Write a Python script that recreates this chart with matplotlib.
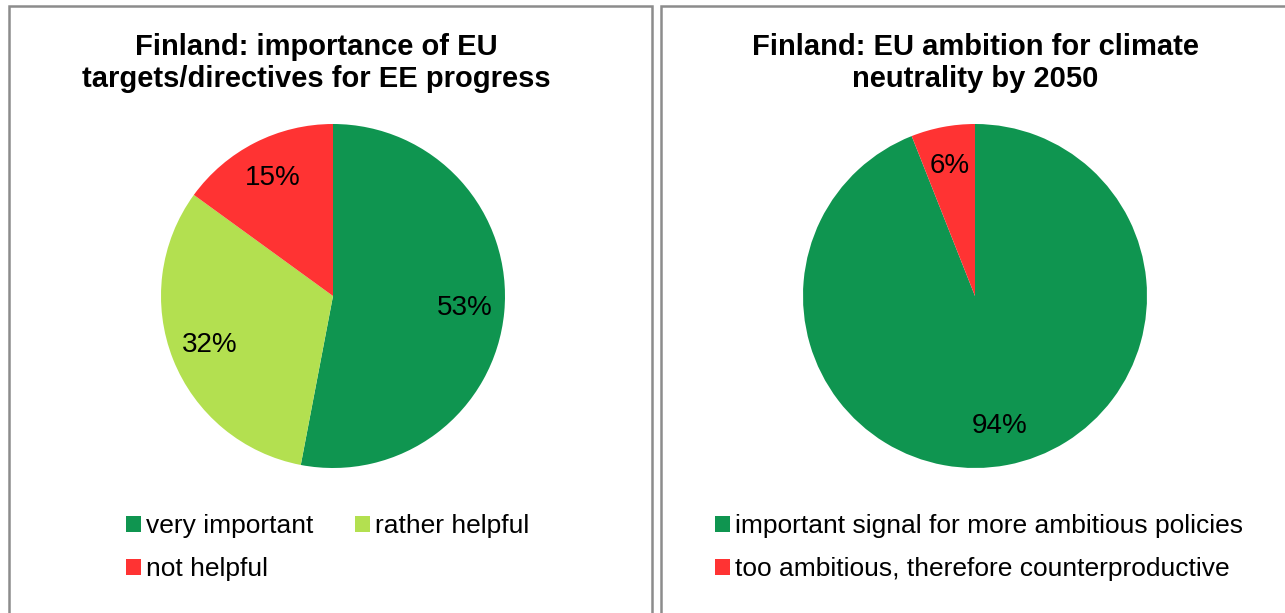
import matplotlib.pyplot as plt
from matplotlib.patches import Rectangle

# -----------------------------
# Data
# -----------------------------
left_title = "Finland: importance of EU\ntargets/directives for EE progress"
left_labels = ["very important", "rather helpful", "not helpful"]
left_values = [53, 32, 15]
left_colors = ["#0f9550", "#b3e050", "#ff3333"]

right_title = "Finland: EU ambition for climate\nneutrality by 2050"
right_labels = ["important signal for more ambitious policies",
                "too ambitious, therefore counterproductive"]
right_values = [94, 6]
right_colors = ["#0f9550", "#ff3333"]

plt.rcParams['font.family'] = ['Liberation Sans', 'DejaVu Sans']

W, H = 1285, 613
fig = plt.figure(figsize=(W / 100, H / 100), dpi=100)


def fx(px):
    return px / W


def fy(py):
    return 1 - py / H


# panel borders
for x0, x1 in [(9, 652), (661, 1300)]:
    fig.patches.append(Rectangle((fx(x0), fy(640)), fx(x1 - x0), (640 - 6) / H,
                                 transform=fig.transFigure, fill=False,
                                 edgecolor="#8c8c8c", linewidth=1.8))


def draw_pie(cx, values, labels, colors, title, title_x, leg_x, ncol, colspace,
             order):
    r = 172
    ax = fig.add_axes([fx(cx - r), fy(296 + r), fx(2 * r), 2 * r / H])
    wedges, _, autotexts = ax.pie(values, colors=colors, startangle=90,
                                  counterclock=False, radius=1,
                                  autopct=lambda p: f"{round(p)}%", pctdistance=0.77,
                                  wedgeprops=dict(linewidth=0),
                                  textprops=dict(fontsize=20, color="black"))
    ax.set_xlim(-1, 1)
    ax.set_ylim(-1, 1)
    ax.set_aspect("auto")
    ax.axis("off")
    fig.text(fx(title_x), fy(63), title, ha="center", va="center",
             fontsize=21, fontweight="bold", linespacing=1.2)
    fig.legend([wedges[i] for i in order], [labels[i] for i in order],
               loc="upper left",
               bbox_to_anchor=(fx(leg_x), fy(514)), ncol=ncol,
               frameon=False, fontsize=19, handlelength=0.55, handleheight=0.55,
               handletextpad=0.2, labelspacing=0.72, columnspacing=colspace,
               borderpad=0, borderaxespad=0)
    return autotexts


draw_pie(333, left_values, left_labels, left_colors, left_title, 316, 126, 2, 1.6,
         [0, 2, 1])
draw_pie(975, right_values, right_labels, right_colors, right_title, 975, 715, 1, 1.0,
         [0, 1])

plt.savefig("out.png", dpi=100)
